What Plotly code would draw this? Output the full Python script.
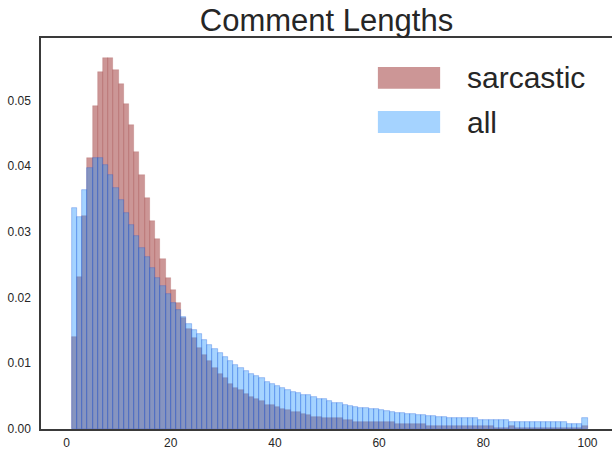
import plotly.graph_objects as go

# Bin starts (word counts 1..99, each bin is 1 wide, last bin covers 99-100)
bin_starts = list(range(1, 100))

sarcastic = [
    0.0140, 0.0232, 0.0324, 0.0413, 0.0492, 0.0544, 0.0565, 0.0565, 0.0547, 0.0525,
    0.0495, 0.0463, 0.0422, 0.0387, 0.0351, 0.0317, 0.0289, 0.0259, 0.0230, 0.0211,
    0.0191, 0.0169, 0.0152, 0.0138, 0.0124, 0.0112, 0.0103, 0.0093, 0.0083, 0.0077,
    0.0069, 0.0063, 0.0060, 0.0054, 0.0049, 0.0045, 0.0043, 0.0037, 0.0036, 0.0034,
    0.0031, 0.0029, 0.0026, 0.0026, 0.0023, 0.0022, 0.0019, 0.0019, 0.0017, 0.0016,
    0.0016, 0.0016, 0.0014, 0.0013, 0.0011, 0.0011, 0.0011, 0.0010, 0.0010, 0.0010,
    0.0010, 0.0010, 0.0008, 0.0008, 0.0007, 0.0007, 0.0007, 0.0007, 0.0005, 0.0005,
    0.0005, 0.0005, 0.0005, 0.0005, 0.0004, 0.0004, 0.0004, 0.0004, 0.0004, 0.0004,
    0.0004, 0.0002, 0.0002, 0.0002, 0.0004, 0.0002, 0.0002, 0.0002, 0.0002, 0.0002,
    0.0002, 0.0002, 0.0002, 0.0002, 0.0002, 0.0002, 0.0002, 0.0002, 0.0004,
]

all_comments = [
    0.0336, 0.0322, 0.0364, 0.0397, 0.0413, 0.0413, 0.0401, 0.0386, 0.0367, 0.0348,
    0.0329, 0.0311, 0.0293, 0.0276, 0.0261, 0.0245, 0.0230, 0.0217, 0.0205, 0.0192,
    0.0181, 0.0171, 0.0160, 0.0151, 0.0144, 0.0136, 0.0128, 0.0121, 0.0115, 0.0109,
    0.0104, 0.0098, 0.0093, 0.0089, 0.0084, 0.0080, 0.0077, 0.0072, 0.0069, 0.0066,
    0.0063, 0.0060, 0.0057, 0.0055, 0.0052, 0.0051, 0.0048, 0.0046, 0.0045, 0.0042,
    0.0040, 0.0039, 0.0037, 0.0035, 0.0034, 0.0032, 0.0032, 0.0031, 0.0030, 0.0029,
    0.0028, 0.0026, 0.0025, 0.0025, 0.0023, 0.0023, 0.0022, 0.0022, 0.0020, 0.0020,
    0.0019, 0.0019, 0.0017, 0.0017, 0.0017, 0.0016, 0.0016, 0.0016, 0.0014, 0.0014,
    0.0014, 0.0013, 0.0013, 0.0013, 0.0011, 0.0011, 0.0011, 0.0011, 0.0011, 0.0010,
    0.0010, 0.0010, 0.0010, 0.0010, 0.0010, 0.0008, 0.0008, 0.0008, 0.0017,
]

x_ticks = [0, 20, 40, 60, 80, 100]
y_ticks = [0.00, 0.01, 0.02, 0.03, 0.04, 0.05]
series_names = ["sarcastic", "all"]

RED_FILL = "rgba(153,45,45,0.5)"
RED_EDGE = "rgba(140,30,30,0.25)"
BLUE_FILL = "rgba(30,144,255,0.4)"
BLUE_EDGE = "rgba(30,90,220,0.45)"
TEXT = "#262626"
FONT = "Liberation Sans, Arial, sans-serif"

fig = go.Figure()
fig.add_trace(go.Bar(
    x=bin_starts, y=sarcastic, width=1, offset=0, name=series_names[0],
    marker=dict(color=RED_FILL, line=dict(color=RED_EDGE, width=0.7)),
    showlegend=False,
))
fig.add_trace(go.Bar(
    x=bin_starts, y=all_comments, width=1, offset=0, name=series_names[1],
    marker=dict(color=BLUE_FILL, line=dict(color=BLUE_EDGE, width=0.7)),
    showlegend=False,
))

# Legend drawn as large patches (paper coordinates)
legend_rows = [(series_names[0], RED_FILL, 0.898), (series_names[1], BLUE_FILL, 0.785)]
for name, col, yc in legend_rows:
    fig.add_shape(type="rect", xref="paper", yref="paper",
                  x0=0.590, x1=0.699, y0=yc - 0.028, y1=yc + 0.028,
                  fillcolor=col, line=dict(width=0), layer="above")
    fig.add_annotation(xref="paper", yref="paper", x=0.742, y=yc,
                       xanchor="left", yanchor="middle", showarrow=False,
                       text=name, font=dict(family=FONT, size=30, color=TEXT))

fig.update_layout(
    width=612, height=450,
    margin=dict(l=41, r=0, t=38, b=21, autoexpand=False),
    paper_bgcolor="white", plot_bgcolor="white",
    barmode="overlay", bargap=0,
    title=dict(text="Comment Lengths", x=0.5, xref="paper", xanchor="center",
               y=1 - 20 / 450, yref="container", yanchor="middle",
               font=dict(family=FONT, size=31, color=TEXT)),
    font=dict(family=FONT, color=TEXT),
)
fig.update_xaxes(
    range=[-4.9, 104.7], tickvals=x_ticks, ticktext=[str(v) for v in x_ticks],
    showgrid=False, zeroline=False, showline=True, linecolor="#3a3a3a", linewidth=1.5,
    mirror=True, ticks="outside", ticklen=2, tickcolor="rgba(0,0,0,0)",
    tickfont=dict(family=FONT, size=12, color=TEXT), automargin=False,
)
fig.update_yaxes(
    range=[0, 0.0595], tickvals=y_ticks, ticktext=["%.2f" % v for v in y_ticks],
    showgrid=False, zeroline=False, showline=True, linecolor="#3a3a3a", linewidth=1.5,
    mirror=False, ticks="outside", ticklen=6, tickcolor="rgba(0,0,0,0)",
    tickfont=dict(family=FONT, size=12, color=TEXT), automargin=False,
)

# Remove the default 8px page margin so the 612x450 figure fills the window
fig.write_html("out.html",
               config={"displayModeBar": False},
               post_script="document.body.style.margin='0';document.body.style.overflow='hidden';")
